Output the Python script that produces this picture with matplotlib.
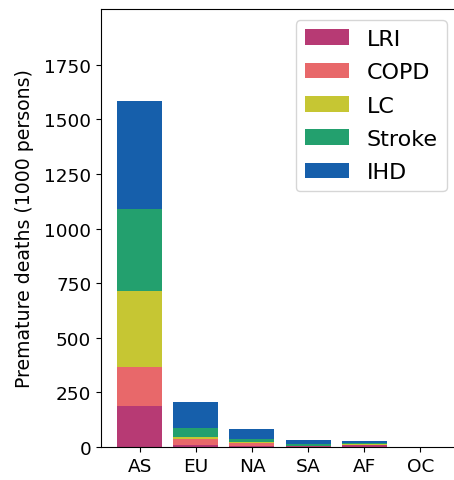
import numpy as np
import matplotlib
matplotlib.use('Agg')
import matplotlib.pyplot as plt

regions = ['AS', 'EU', 'NA', 'SA', 'AF', 'OC']
causes = ['LRI', 'COPD', 'LC', 'Stroke', 'IHD']
colors = ['#b73a74', '#e8686a', '#c6c633', '#23a06e', '#165fab']

# premature deaths (1000 persons) per cause, per region
lri = [189, 11, 3, 3, 8, 0.1]
copd = [179, 26, 17, 2, 3, 0.1]
lc = [347, 10, 4, 1, 3, 0.1]
stroke = [375, 40, 13, 8, 6, 0.1]
ihd = [492, 119, 45, 18, 7, 0.2]
values = [lri, copd, lc, stroke, ihd]

fig = plt.figure(figsize=(4.54, 4.81), dpi=100)
ax = fig.add_axes([101 / 454, 1 - 448 / 481, 358 / 454, 438 / 481])

x = np.arange(len(regions))
bottom = np.zeros(len(regions))
for name, vals, c in zip(causes, values, colors):
    ax.bar(x, vals, width=0.8, bottom=bottom, color=c, label=name)
    bottom += np.array(vals)

ax.set_xticks(x)
ax.set_xticklabels(regions)
ax.set_xlim(-0.69, 5.69)
ax.set_ylim(0, 2005)
ax.set_yticks(np.arange(0, 2000, 250))
ax.tick_params(labelsize=13.3)
ax.set_ylabel('Premature deaths (1000 persons)', fontsize=13.6, labelpad=7)
ax.legend(fontsize=16, loc='upper right', bbox_to_anchor=(0.997, 1.0),
          labelspacing=0.6)

fig.savefig('out.png', dpi=100)
